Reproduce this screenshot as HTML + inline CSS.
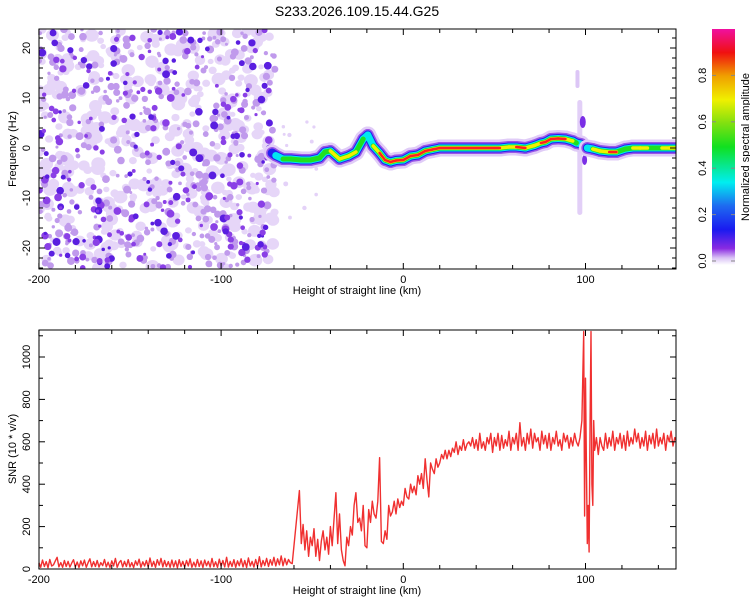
<!DOCTYPE html>
<html><head><meta charset="utf-8"><style>
html,body{margin:0;padding:0;background:#fff;}
svg{display:block;font-family:"Liberation Sans",sans-serif;}
</style></head><body>
<svg id="chart" width="750" height="600" viewBox="0 0 750 600">
<defs>
<linearGradient id="cbar" x1="0" y1="1" x2="0" y2="0">
<stop offset="0" stop-color="#ffffff"/>
<stop offset="0.03" stop-color="#d9c2f5"/>
<stop offset="0.07" stop-color="#8a2be2"/>
<stop offset="0.15" stop-color="#1a1af0"/>
<stop offset="0.25" stop-color="#1e6af0"/>
<stop offset="0.35" stop-color="#00eef0"/>
<stop offset="0.5" stop-color="#10e020"/>
<stop offset="0.6" stop-color="#80e010"/>
<stop offset="0.7" stop-color="#f0f000"/>
<stop offset="0.8" stop-color="#f0a000"/>
<stop offset="0.9" stop-color="#f01010"/>
<stop offset="1" stop-color="#f010a0"/>
</linearGradient>
<clipPath id="clipTop"><rect x="39" y="29" width="637" height="240"/></clipPath>
<clipPath id="clipBot"><rect x="39" y="330" width="637" height="239"/></clipPath>
</defs>
<text x="357" y="16" text-anchor="middle" font-size="14">S233.2026.109.15.44.G25</text>
<g id="topPlot"></g>
<g id="botPlot"></g>
<g id="cbarG">
<rect x="712" y="29" width="23" height="236" fill="url(#cbar)"/>
<text transform="translate(749,147) rotate(-90)" text-anchor="middle" font-size="11">Normalized spectral amplitude</text>
</g>
</svg>
<script>
// ---- data ----
const ridgeKm  = [-72,-70,-66,-62,-56,-51,-46,-43,-40,-35,-30,-26,-22,-19.5,-16.5,-13,-10,-7,-4,0,4,8,12,16,20,30,40,50,53,58,62,67,72,75.5,78,81,85,89,93,95,97.6];
const ridgeHz  = [-1,-1.5,-2.2,-2.2,-2.4,-2.4,-2,-0.8,-0.6,-2.2,-1.6,-0.8,1.8,2.6,0.4,-1,-2.4,-2.8,-2.5,-2.4,-1.6,-1.4,-0.6,-0.3,0,0,0,0,0,0.2,0.2,0,0.5,1,1.2,1.8,1.9,1.8,1.4,1,0.8];
const ridgeAmp = [0.4,0.5,0.6,0.7,0.75,0.7,0.75,0.7,0.75,0.85,0.8,0.8,0.6,0.55,0.75,0.85,0.9,0.9,0.85,0.9,0.85,0.9,0.9,0.95,0.95,1,1,0.95,0.9,0.8,0.85,0.85,0.8,0.9,0.9,1,1,1,0.8,0.6,0.5];
const ridge2Km  = [101,104,108,113,117,122,126,130,134,138,142,146,150];
const ridge2Hz  = [0,-0.2,-0.6,-0.8,-0.8,-0.2,0,0,0,0,0,0,0];
const ridge2Amp = [0.5,0.9,0.8,1,1,0.7,0.85,0.75,0.8,0.7,0.8,0.75,0.85];

const xTicks = [-200,-100,0,100];
const yTicksTop = [-20,-10,0,10,20];
const yTicksBot = [0,200,400,600,800,1000];
const cbarTicks = [0,0.2,0.4,0.6,0.8];

// SNR: low segment (-200..-58 every 1 km)
const snrLow = [30,8,42,12,35,6,45,14,20,38,55,10,30,8,40,12,36,9,28,44,10,33,7,38,15,42,8,30,48,10,35,12,40,9,30,16,45,10,32,7,38,14,50,8,30,40,10,36,12,44,10,30,7,38,18,46,8,34,14,40,10,52,12,36,8,44,18,50,10,40,12,35,
8,42,10,38,6,44,12,36,9,40,14,48,8,32,10,45,12,38,7,42,15,36,9,50,11,34,8,46,13,40,10,55,9,36,12,44,8,38,15,48,10,40,7,52,14,36,9,45,12,58,10,40,16,50,12,44,18,55,14,48,20,62,15,50,20,45,30,25];
// rise segment (-57..40 every 1 km)
const snrRise = [370,120,210,90,180,60,150,110,190,60,140,40,130,180,90,150,70,200,110,240,360,120,260,90,40,15,150,110,200,160,300,360,220,240,180,300,110,100,280,220,320,260,240,320,525,130,120,180,140,300,250,270,320,260,330,290,320,300,380,340,330,400,360,390,350,440,400,450,380,520,420,340,500,470,450,520,480,500,540,520,560,520,560,530,570,550,600,540,580,560,610,560,590,600,580,620,570,610];
// plateau (41..96 every 1 km)
const snrPlateau = [560,640,570,600,560,620,590,640,550,620,580,640,560,630,570,610,580,650,560,620,590,640,560,690,580,620,560,640,590,660,570,640,600,620,560,650,590,630,570,640,560,620,590,650,580,610,560,640,600,630,570,620,580,640,600,580];
// spike region
const snrSpikeKm = [97,98,99,99.5,100,100.5,101,101.5,102,102.5,103,103.5,104,104.5,105,106,107,108];
const snrSpike   = [620,700,1120,250,900,500,120,300,80,700,1120,400,300,700,560,620,540,620];
// tail (109..150 every 1 km)
const snrTail = [580,560,640,570,620,580,650,560,620,590,640,570,630,560,650,580,620,590,660,600,640,570,620,580,650,560,630,590,640,570,660,580,620,590,640,560,630,600,650,580,620,600];

// ---- scales ----
const X = km => 403.3 + 1.822*km;
const YT = hz => 148 - 5*hz;
const YB = v => 569 - 0.212*v;
const NS = 'http://www.w3.org/2000/svg';
function mk(tag, attrs, parent){ const e=document.createElementNS(NS,tag); for(const k in attrs) e.setAttribute(k,attrs[k]); parent.appendChild(e); return e; }

const topG = document.getElementById('topPlot');
const botG = document.getElementById('botPlot');

// ---- spectrogram noise texture (left region) ----
let seed = 12345;
function rnd(){ seed = (seed*1103515245+12345) % 2147483648; return seed/2147483648; }
const noiseG = mk('g',{'clip-path':'url(#clipTop)'},topG);


for (let i=0;i<420;i++){
  const cx=39+rnd()*236, cy=29+rnd()*240, r=2.5+rnd()*4;
  mk('ellipse',{cx:cx,cy:cy,rx:r*1.1,ry:r,fill:'#e6d6f8'},noiseG);
}
for (let i=0;i<380;i++){
  const cx=39+rnd()*236, cy=29+rnd()*240, r=1.5+rnd()*2.5;
  mk('circle',{cx:cx,cy:cy,r:r,fill:'#c09aec'},noiseG);
}
for (let i=0;i<240;i++){
  const cx=39+rnd()*236, cy=29+rnd()*240, r=1.5+rnd()*2.5;
  mk('circle',{cx:cx,cy:cy,r:r,fill: rnd()<0.35?'#5a1ee0':'#8a40e6'},noiseG);
}
for (let i=0;i<12;i++){
  const cx=278+rnd()*40, cy=110+rnd()*130, r=1+rnd()*1.5;
  mk('circle',{cx:cx,cy:cy,r:r,fill:'#e4d2f8'},noiseG);
}

// ---- vertical feature near 100 km ----
const spikeG = mk('g',{'clip-path':'url(#clipTop)'},topG);


mk('rect',{x:X(94.5),y:70,width:4,height:18,rx:2,fill:'#dcc6f6'},spikeG);
mk('rect',{x:X(95.5),y:100,width:5,height:115,rx:2.5,fill:'#e2cff7'},spikeG);
mk('ellipse',{cx:X(98.5),cy:122,rx:3,ry:6,fill:'#7a2ee6'},spikeG);
mk('ellipse',{cx:X(99.5),cy:160,rx:2.5,ry:5,fill:'#7a2ee6'},spikeG);

// ---- ridge ----
const layers = [
  {w:17,c:'#e0ccf7',t:0},{w:12,c:'#9a55e8',t:0.3},{w:9,c:'#2222ee',t:0.4},{w:7,c:'#00e8f0',t:0.5},
  {w:5,c:'#20e020',t:0.6},{w:3.5,c:'#f0f000',t:0.75},{w:2.5,c:'#ff2020',t:0.85}
];
function drawRidge(kms,hzs,amps,name){
  const g = mk('g',{'clip-path':'url(#clipTop)'},topG);
  
  
  layers.forEach(L=>{
    for(let i=0;i<kms.length-1;i++){
      const a=Math.min(amps[i],amps[i+1]);
      if(a<L.t) continue;
      mk('line',{x1:X(kms[i]),y1:YT(hzs[i]),x2:X(kms[i+1]),y2:YT(hzs[i+1]),stroke:L.c,'stroke-width':L.w,'stroke-linecap':'round'},g);
    }
  });
}
drawRidge(ridgeKm,ridgeHz,ridgeAmp,'ridge-main');
drawRidge(ridge2Km,ridge2Hz,ridge2Amp,'ridge-after-100km');

// ---- SNR line ----
const pts = [];
snrLow.forEach((v,i)=>pts.push([-200+i, v]));
snrRise.forEach((v,i)=>pts.push([-57+i, v]));
snrPlateau.forEach((v,i)=>pts.push([41+i, v]));
snrSpike.forEach((v,i)=>pts.push([snrSpikeKm[i], v]));
snrTail.forEach((v,i)=>pts.push([109+i, v]));
pts.sort((a,b)=>a[0]-b[0]);
let d='';
pts.forEach((p,i)=>{ d += (i?'L':'M')+X(p[0]).toFixed(1)+','+YB(p[1]).toFixed(1); });
const g2 = mk('g',{'clip-path':'url(#clipBot)'},botG);
const snrPath = mk('path',{d:d,fill:'none',stroke:'#f03030','stroke-width':1.4,'stroke-linejoin':'round'},g2);



// ---- axes ----
function frame(parent,y0,y1,name){
  const r = mk('rect',{x:39,y:y0,width:637,height:y1-y0,fill:'none',stroke:'#000','stroke-width':1},parent);
  
  
  for(let k=-200;k<=150;k+=20){
    const major = k%100===0; const L = major?6:4;
    mk('line',{x1:X(k),y1:y1,x2:X(k),y2:y1-L,stroke:'#000'},parent);
    mk('line',{x1:X(k),y1:y0,x2:X(k),y2:y0+L,stroke:'#000'},parent);
  }
  xTicks.forEach(k=>{
    const t=mk('text',{x:X(k),y:y1+14,'text-anchor':'middle','font-size':11},parent);
    t.textContent=k;
    
    
  });
  const xt=mk('text',{x:357,y:y1+25,'text-anchor':'middle','font-size':11},parent);
  xt.textContent='Height of straight line (km)';
  
  
}
frame(topG,29,269,'spectrogram-frame');
frame(botG,330,569,'snr-frame');

for(let h=-24;h<=24;h+=2){
  const y=YT(h); if(y<29||y>269) continue;
  const L = h%10===0?6:4;
  mk('line',{x1:39,y1:y,x2:39+L,y2:y,stroke:'#000'},topG);
  mk('line',{x1:676,y1:y,x2:676-L,y2:y,stroke:'#000'},topG);
}
yTicksTop.forEach(h=>{
  const t=mk('text',{transform:`translate(30,${YT(h)}) rotate(-90)`,'text-anchor':'middle','font-size':11},topG);
  t.textContent=h;
  
  
});
const yt1=mk('text',{transform:'translate(16,149) rotate(-90)','text-anchor':'middle','font-size':11},topG);
yt1.textContent='Frequency (Hz)';



for(let v=0;v<=1100;v+=100){
  const y=YB(v); const L=v%200===0?6:4;
  mk('line',{x1:39,y1:y,x2:39+L,y2:y,stroke:'#000'},botG);
  mk('line',{x1:676,y1:y,x2:676-L,y2:y,stroke:'#000'},botG);
}
yTicksBot.forEach(v=>{
  const t=mk('text',{transform:`translate(30,${YB(v)}) rotate(-90)`,'text-anchor':'middle','font-size':11},botG);
  t.textContent=v;
  
  
});
const yt2=mk('text',{transform:'translate(16,449) rotate(-90)','text-anchor':'middle','font-size':11},botG);
yt2.textContent='SNR (10 * v/v)';



const cb=document.getElementById('cbarG');
cbarTicks.forEach(v=>{
  const y=261-232*v;
  const t=mk('text',{transform:`translate(706,${y}) rotate(-90)`,'text-anchor':'middle','font-size':11},cb);
  t.textContent=v.toFixed(1);
  
  
  mk('line',{x1:712,y1:y,x2:716,y2:y,stroke:'#888'},cb);
  mk('line',{x1:735,y1:y,x2:731,y2:y,stroke:'#888'},cb);
});
</script>
</body></html>
